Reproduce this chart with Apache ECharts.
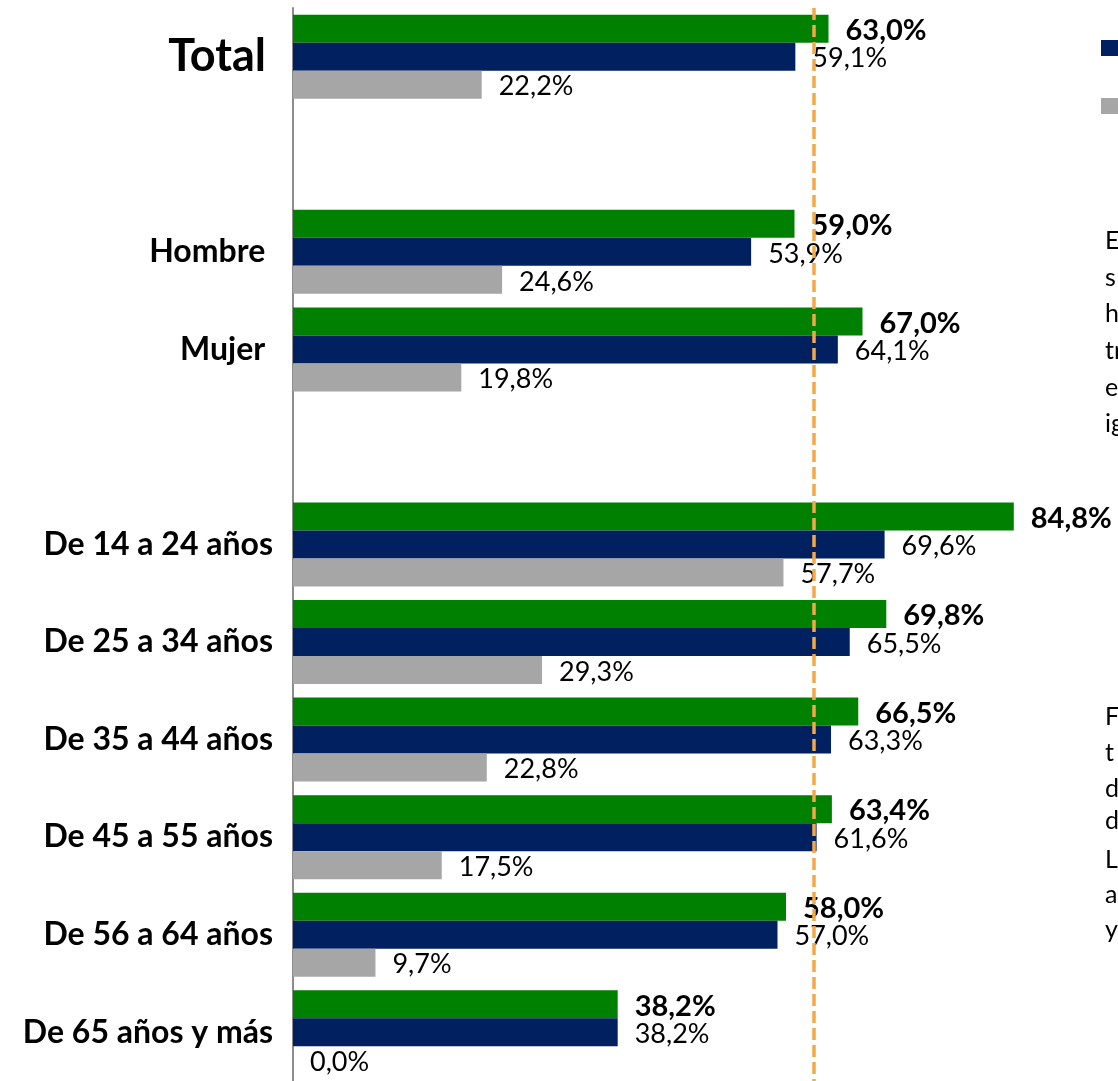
<!DOCTYPE html>
<html>
<head>
<meta charset="utf-8">
<script src="https://cdn.jsdelivr.net/npm/echarts@6/dist/echarts.min.js"></script>
<style>
html,body{margin:0;padding:0;background:#fff;}
#chart{width:1118px;height:1081px;}
</style>
</head>
<body>
<div id="chart"></div>
<script>
// Categories (empty strings are spacer rows)
const categories = ['Total', '', 'Hombre ', 'Mujer ', '', 'De 14 a 24 años', 'De 25 a 34 años', 'De 35 a 44 años', 'De 45 a 55 años', 'De 56 a 64 años', 'De 65 años y más'];
const greenValues = [63.0, null, 59.0, 67.0, null, 84.8, 69.8, 66.5, 63.4, 58.0, 38.2];
const navyValues  = [59.1, null, 53.9, 64.1, null, 69.6, 65.5, 63.3, 61.6, 57.0, 38.2];
const grayValues  = [22.2, null, 24.6, 19.8, null, 57.7, 29.3, 22.8, 17.5, 9.7, 0.0];
const referenceValue = 61.3;
const seriesNames = ['Serie 1', 'Serie 2', 'Serie 3'];
const sideTextA = ['E', 's', 'h', 'tr', 'e', 'ig'];
const sideTextB = ['F', 't', 'd', 'd', 'L', 'a', 'y'];

const FONT = 'Lato';
const fmt = v => v.toFixed(1).replace('.', ',') + '%';

const chart = echarts.init(document.getElementById('chart'), null, {renderer: 'canvas'});

function barSeries(name, data, color, bold, extra) {
  return Object.assign({
    name: name,
    type: 'bar',
    data: data,
    barWidth: 28,
    barGap: '0%',
    itemStyle: {color: color},
    label: {
      show: true,
      position: 'right',
      distance: 17,
      offset: [0, 2],
      color: '#000',
      fontFamily: FONT,
      fontSize: bold ? 29 : 27,
      fontWeight: bold ? 'bold' : 'normal',
      formatter: p => fmt(p.value)
    },
    animation: false
  }, extra || {});
}

const sideGraphics = [];
const yA = [242, 279, 315, 352, 389, 425];
sideTextA.forEach((t, i) => sideGraphics.push({
  type: 'text', left: 1105, top: yA[i] - 14,
  style: {text: t, fill: '#000', font: '25px ' + FONT}
}));
const yB = [718, 754, 790, 822, 861, 896, 931];
sideTextB.forEach((t, i) => sideGraphics.push({
  type: 'text', left: 1105, top: yB[i] - 14,
  style: {text: t, fill: '#000', font: '25px ' + FONT}
}));

chart.setOption({
  animation: false,
  backgroundColor: '#fff',
  grid: {left: 293, top: 8, right: 0, height: 1078},
  legend: {
    data: [seriesNames[1], seriesNames[2]],
    orient: 'vertical',
    left: 1101, top: 40,
    padding: 0,
    itemWidth: 17, itemHeight: 16, itemGap: 42,
    icon: 'rect',
    textStyle: {fontSize: 16, lineHeight: 16, fontFamily: FONT, color: '#000'}
  },
  xAxis: {
    type: 'value', min: 0, max: 97.06, show: false,
    splitLine: {show: false}
  },
  yAxis: {
    type: 'category',
    data: categories,
    inverse: true,
    axisLine: {show: true, lineStyle: {color: '#8c8c8c', width: 2}},
    axisTick: {show: false},
    axisLabel: {
      margin: 20,
      color: '#000',
      fontFamily: FONT,
      fontWeight: 'bold',
      fontSize: 32,
      formatter: v => v === 'Total' ? '{t|' + v + '}' : v,
      rich: {t: {fontSize: 45, fontWeight: 'bold', fontFamily: FONT, color: '#000', padding: [0, 7, 0, 0]}}
    }
  },
  series: [
    barSeries(seriesNames[0], greenValues, '#008000', true, {
      markLine: {
        silent: true,
        symbol: 'none',
        label: {show: false},
        lineStyle: {color: '#F4A848', width: 3.5, type: [12, 5]},
        data: [{xAxis: referenceValue}],
        animation: false
      }
    }),
    barSeries(seriesNames[1], navyValues, '#002060', false),
    barSeries(seriesNames[2], grayValues, '#A6A6A6', false)
  ],
  graphic: sideGraphics
});
</script>
</body>
</html>
